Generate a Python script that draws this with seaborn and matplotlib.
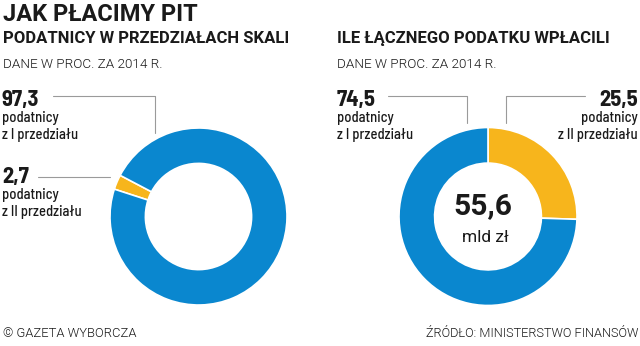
import matplotlib
matplotlib.use("Agg")
import matplotlib.pyplot as plt
import seaborn as sns
from matplotlib.lines import Line2D

sns.set_theme(style="white")
plt.rcParams['font.family'] = ['Roboto', 'DejaVu Sans']

# ---- data ----
title = "JAK PŁACIMY PIT"
left_subtitle = "PODATNICY W PRZEDZIAŁACH SKALI"
right_subtitle = "ILE ŁĄCZNEGO PODATKU WPŁACILI"
note = "DANE W PROC. ZA 2014 R."
left_values = [2.7, 97.3]          # II przedział, I przedział
right_values = [25.5, 74.5]        # II przedział, I przedział
left_labels = ["2,7", "97,3"]
right_labels = ["25,5", "74,5"]
lbl_line1 = "podatnicy"
lbl_line2 = ["z II przedziału", "z I przedziału"]
total_value = "55,6"
total_unit = "mld zł"
footer_left = "© GAZETA WYBORCZA"
footer_right = "ŹRÓDŁO: MINISTERSTWO FINANSÓW"

BLUE = "#0A87CF"
YELLOW = "#F7B51C"
colors = [YELLOW, BLUE]
GRAY = "#9a9a9a"
TXT = "#1a1a1a"

ROB = ['Roboto', 'DejaVu Sans']
SEMI = ['Barlow Semi Condensed', 'DejaVu Sans']

W, H = 640, 346
fig = plt.figure(figsize=(W / 100, H / 100), dpi=100)
fig.patch.set_facecolor("white")

def fx(x):
    return x / W

def fy(y):
    return 1 - y / H

def donut(cx, cy, r, values, start):
    ax = fig.add_axes([fx(cx - r), fy(cy + r), 2 * r / W, 2 * r / H])
    ax.pie(values, colors=colors, startangle=start, counterclock=False,
           radius=1.0, wedgeprops=dict(width=0.4, edgecolor="white", linewidth=1.2))
    ax.set_xlim(-1, 1)
    ax.set_ylim(-1, 1)
    ax.set_aspect("auto")
    ax.axis("off")
    return ax

donut(198.5, 216.5, 88.5, left_values, 162)
donut(488, 216.5, 89, right_values, 90)

# ---- texts ----
fig.text(fx(3), fy(21), title, fontsize=17.0, fontweight="bold", family=ROB, color=TXT, va="baseline", ha="left")
fig.text(fx(3), fy(43), left_subtitle, fontsize=12, fontweight="bold", family=ROB, color=TXT, va="baseline", ha="left")
fig.text(fx(337), fy(43), right_subtitle, fontsize=12, fontweight="bold", family=ROB, color=TXT, va="baseline", ha="left")
fig.text(fx(3), fy(68), note, fontsize=9.7, fontweight=300, family=ROB, color=TXT, va="baseline", ha="left")
fig.text(fx(337), fy(68), note, fontsize=9.7, fontweight=300, family=ROB, color=TXT, va="baseline", ha="left")

def label(x, ybase, big, l2, ha="left"):
    fig.text(fx(x), fy(ybase), big, fontsize=16.3, fontweight=700, family=SEMI, color=TXT, va="baseline", ha=ha)
    fig.text(fx(x), fy(ybase + 16), lbl_line1, fontsize=10.5, fontweight=500, family=SEMI, color=TXT, va="baseline", ha=ha)
    fig.text(fx(x), fy(ybase + 33), l2, fontsize=10.5, fontweight=500, family=SEMI, color=TXT, va="baseline", ha=ha)

label(2, 106, left_labels[1], lbl_line2[1])
label(2, 183, left_labels[0], lbl_line2[0])
label(337, 106, right_labels[1], lbl_line2[1])
label(638, 106, right_labels[0], lbl_line2[0], ha="right")

# leader lines
def leader(xs, ys):
    fig.add_artist(Line2D([fx(x) for x in xs], [fy(y) for y in ys], color=GRAY,
                          linewidth=0.8, transform=fig.transFigure))

leader([53, 155, 155], [96, 96, 133])
leader([38, 110], [177, 177])
leader([388, 467, 467], [96, 96, 123])
leader([585, 506, 506], [96, 96, 123])

# center total
fig.text(fx(483), fy(214), total_value, fontsize=21.5, fontweight="bold", family=ROB, color=TXT, va="baseline", ha="center")
fig.text(fx(485), fy(242), total_unit, fontsize=12.5, family=ROB, color=TXT, va="baseline", ha="center")

# footer
fig.text(fx(3), fy(337), footer_left, fontsize=9.4, fontweight=300, family=ROB, color=TXT, va="baseline", ha="left")
fig.text(fx(638), fy(337), footer_right, fontsize=9.2, fontweight=300, family=ROB, color=TXT, va="baseline", ha="right")

fig.savefig("out.png", dpi=100, facecolor="white")
